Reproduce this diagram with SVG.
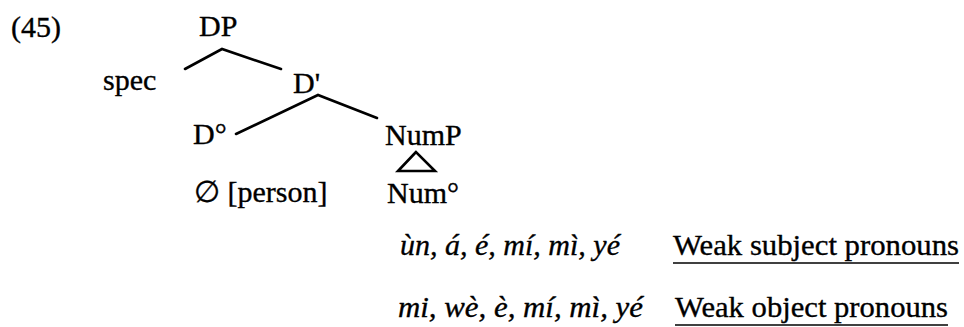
<svg xmlns="http://www.w3.org/2000/svg" width="964" height="327" viewBox="0 0 964 327">
<style>
text{font-family:"Liberation Serif","Times New Roman",serif;font-size:30px;fill:#000;stroke:#000;stroke-width:0.35}
.it{font-style:italic}
.e{stroke:#000;stroke-width:2.6;fill:none;stroke-linecap:round;stroke-linejoin:miter}
.u{stroke:#000;stroke-width:1.6}
</style>
<rect width="964" height="327" fill="#fff"/>
<text x="11" y="37">(45)</text>
<g id="DP"><text x="199" y="36">DP</text></g>
<g id="spec"><text x="103" y="90">spec</text></g>
<g id="Dbar"><text x="293" y="93">D'</text></g>
<g id="D0"><text x="193" y="144">D°</text></g>
<g id="NumP"><text x="385" y="145">NumP</text></g>
<g id="null"><text x="194" y="202">∅ [person]</text></g>
<g id="Num0"><text x="387" y="203">Num°</text></g>
<g id="subj">
<text class="it" x="400" y="255">ùn, á, é, mí, mì, yé</text>
<text x="673" y="255" textLength="286" lengthAdjust="spacingAndGlyphs">Weak subject pronouns</text>
<line class="u" x1="673" y1="263" x2="959" y2="263"/>
</g>
<g id="obj">
<text class="it" x="398" y="317" textLength="245" lengthAdjust="spacingAndGlyphs">mi, wè, è, mí, mì, yé</text>
<text x="675" y="317" textLength="273" lengthAdjust="spacingAndGlyphs">Weak object pronouns</text>
<line class="u" x1="675" y1="325" x2="948" y2="325"/>
</g>
<g id="connectors">
<polyline class="e" points="185,69 222,49 281,69"/>
<polyline class="e" points="236,134 318,95 377,118"/>
<polygon class="e" points="416,152 398,171 435,171"/>
</g>
</svg>
